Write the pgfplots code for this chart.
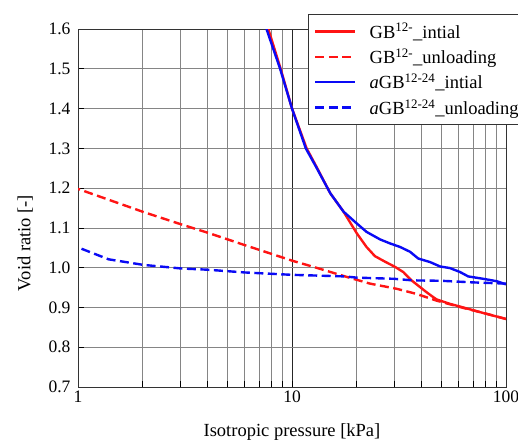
\documentclass[border=0pt]{standalone}
\usepackage{fontspec}
\setmainfont{Liberation Serif}
\usepackage{pgfplots}
\pgfplotsset{compat=1.18}
\definecolor{cred}{RGB}{255,20,20}
\definecolor{cblue}{RGB}{10,10,245}
\begin{document}
\begin{tikzpicture}[x=1pt,y=1pt]
\begin{axis}[
  at={(0,0)}, anchor=south west,
  scale only axis, width=428pt, height=358pt,
  xmode=log, xmin=1, xmax=100, ymin=0.7, ymax=1.6,
  xtick={1,10,100}, xticklabels={1,10,100},
  minor xtick={2,3,4,5,6,7,8,9,20,30,40,50,60,70,80,90},
  ytick={0.7,0.8,0.9,1.0,1.1,1.2,1.3,1.4,1.5,1.6},
  yticklabel style={xshift=-4pt, /pgf/number format/.cd, fixed, fixed zerofill, precision=1},
  tick label style={font=\fontsize{17.5}{20}\selectfont},
  /pgf/number format/assume math mode=true,
  grid=both,
  major grid style={black!48, line width=0.6pt},
  minor grid style={black!48, line width=0.6pt},
  major x grid style={black!85, line width=0.8pt},
  tick align=inside, tick pos=left,
  major tick length=6pt, minor tick length=6pt,
  every tick/.style={black, line width=0.6pt},
  axis line style={black!80, line width=0.9pt},
  label style={font=\fontsize{18.5}{22}\selectfont},
  xlabel={Isotropic pressure [kPa]},
  ylabel={Void ratio [-]},
  xlabel style={at={(ticklabel cs:0.5,14pt)}},
  ylabel style={at={(ticklabel cs:0.402,9pt)}},
  legend cell align=left,
  legend image code/.code={\draw[#1] (0pt,0pt) -- (40pt,0pt);},
  legend style={at={(0.537,1.042)}, anchor=north west, draw=black!80, line width=0.9pt, fill=white,
    font=\fontsize{18.5}{21}\selectfont, row sep=5pt, inner xsep=6pt, inner ysep=7pt,
    /tikz/every odd column/.append style={column sep=11pt}},
]
\addplot[cred, line width=2.4pt] coordinates {
(7.75,1.60) (8.85,1.50) (10,1.40) (11.7,1.30) (13.0,1.254) (15.1,1.187) (17.4,1.141)
(18.0,1.128) (20.1,1.086) (22.3,1.052) (24.4,1.029) (27,1.016) (30.3,1.002) (33.1,0.989)
(36.2,0.968) (42.6,0.938) (45.7,0.926) (47.5,0.920) (54.7,0.909) (63.1,0.900) (78.3,0.886) (100,0.871)};
\addlegendentry{GB\textsuperscript{12-}\_intial}
\addplot[cred, line width=2.4pt, dash pattern=on 9pt off 4.5pt] coordinates {
(100,0.871) (80,0.885) (63,0.899) (47.5,0.917) (38.2,0.934) (30.8,0.947) (23.1,0.960)
(17.7,0.978) (12.6,1.002) (10.1,1.017) (6.07,1.056) (4.03,1.088) (3.03,1.109) (2.02,1.140) (1,1.198)};
\addlegendentry{GB\textsuperscript{12-}\_unloading}
\addplot[cblue, line width=2.4pt] coordinates {
(7.6,1.60) (8.8,1.50) (10,1.40) (11.6,1.30) (13,1.252) (15.1,1.187) (17.4,1.141) (19.7,1.115)
(22.3,1.090) (25.8,1.071) (28.7,1.061) (32,1.052) (35.6,1.040) (38.9,1.023) (44.2,1.014)
(49.2,1.003) (54.7,0.999) (61,0.989) (66.6,0.978) (78.3,0.972) (90.4,0.966) (100,0.958)};
\addlegendentry{\textit{a}GB\textsuperscript{12-24}\_intial}
\addplot[cblue, line width=2.4pt, dash pattern=on 9pt off 4.5pt] coordinates {
(100,0.960) (70,0.963) (50,0.967) (36.7,0.968) (30,0.972) (20,0.975) (17.7,0.978) (10,0.982)
(6,0.988) (4,0.995) (3.03,0.998) (2.02,1.007) (1.39,1.021) (1,1.051)};
\addlegendentry{\textit{a}GB\textsuperscript{12-24}\_unloading}
\end{axis}
\pgfresetboundingbox
\path[use as bounding box] (-78pt,-54pt) rectangle (440pt,387pt);
\end{tikzpicture}
\end{document}
